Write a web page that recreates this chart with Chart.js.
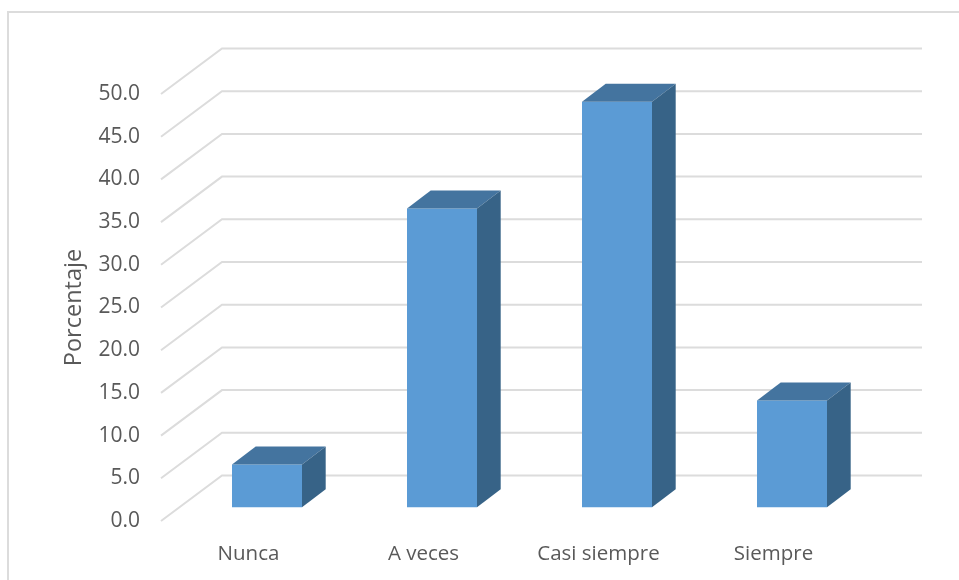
<!DOCTYPE html>
<html>
<head>
<meta charset="utf-8">
<style>
  html, body { margin: 0; padding: 0; background: #fff; }
  #wrap { width: 959px; height: 580px; }
</style>
<script src="https://cdn.jsdelivr.net/npm/chart.js@4"></script>
</head>
<body>
<div id="wrap"><canvas id="chart" width="959" height="580"></canvas></div>
<script>
const categories = ['Nunca', 'A veces', 'Casi siempre', 'Siempre'];
const porcentaje = [5.0, 35.0, 47.5, 12.5];
const yTicks = [0, 5, 10, 15, 20, 25, 30, 35, 40, 45, 50];

const GRID = '#dcdcdc';
const TEXT = '#595959';
const FONT = "'Open Sans', sans-serif";

// --- fake 3D: walls behind the plot, bars pushed back into the floor ---
const wallX = 61, wallY = 45.5;
const barShiftX = 18.5, barShiftY = 13.7;
const depthX = 23.7, depthY = 18;

function face(ctx, color, pts) {
    ctx.fillStyle = color;
    ctx.beginPath();
    pts.forEach((p, i) => i ? ctx.lineTo(p[0], p[1]) : ctx.moveTo(p[0], p[1]));
    ctx.closePath();
    ctx.fill();
}

const frame3d = {
    id: 'frame3d',
    beforeDraw(chart) {
        const { ctx, width, height } = chart;
        ctx.save();
        ctx.strokeStyle = GRID;
        ctx.lineWidth = 2;
        ctx.beginPath();
        ctx.moveTo(8, height);
        ctx.lineTo(8, 12);
        ctx.lineTo(width, 12);
        ctx.stroke();
        ctx.restore();
    },
    beforeDatasetsDraw(chart) {
        const { ctx, chartArea, scales } = chart;
        ctx.save();
        ctx.strokeStyle = GRID;
        ctx.lineWidth = 2;
        yTicks.forEach(v => {
            const y = scales.y.getPixelForValue(v);
            ctx.beginPath();
            ctx.moveTo(chartArea.left, y);
            ctx.lineTo(chartArea.left + wallX, y - wallY);
            ctx.lineTo(chartArea.right + wallX, y - wallY);
            ctx.stroke();
        });
        ctx.restore();
        ctx.save();
        ctx.translate(barShiftX, -barShiftY);
    },
    afterDatasetsDraw(chart) {
        const { ctx } = chart;
        chart.getDatasetMeta(0).data.forEach(bar => {
            const l = bar.x - bar.width / 2, r = bar.x + bar.width / 2;
            face(ctx, '#44749f', [[l, bar.y], [l + depthX, bar.y - depthY], [r + depthX, bar.y - depthY], [r, bar.y]]);
            face(ctx, '#376387', [[r, bar.y], [r + depthX, bar.y - depthY], [r + depthX, bar.base - depthY], [r, bar.base]]);
        });
        ctx.restore();
    }
};

new Chart(document.getElementById('chart'), {
    type: 'bar',
    data: {
        labels: categories,
        datasets: [{
            data: porcentaje,
            backgroundColor: '#5b9bd5',
            borderWidth: 0,
            barPercentage: 0.8,
            categoryPercentage: 0.5,
            clip: false
        }]
    },
    options: {
        responsive: false,
        animation: false,
        layout: { padding: { top: 94, right: 98, bottom: 0, left: 0 } },
        plugins: { legend: { display: false }, tooltip: { enabled: false } },
        scales: {
            x: {
                grid: { display: false, drawTicks: false },
                border: { display: false },
                ticks: { color: TEXT, font: { family: FONT, size: 20.5 }, padding: 21, maxRotation: 0 },
                afterFit(s) { s.height = 59; }
            },
            y: {
                min: 0,
                max: 50,
                grid: { display: false, drawTicks: false },
                border: { display: false },
                title: {
                    display: true,
                    text: 'Porcentaje',
                    color: TEXT,
                    font: { family: FONT, size: 23.5 },
                    padding: { top: 60, bottom: 0 }
                },
                ticks: {
                    stepSize: 5,
                    color: TEXT,
                    font: { family: FONT, size: 21 },
                    padding: 21,
                    callback: v => v.toFixed(1)
                },
                afterFit(s) { s.width = 161; }
            }
        }
    },
    plugins: [frame3d]
});
</script>
</body>
</html>
